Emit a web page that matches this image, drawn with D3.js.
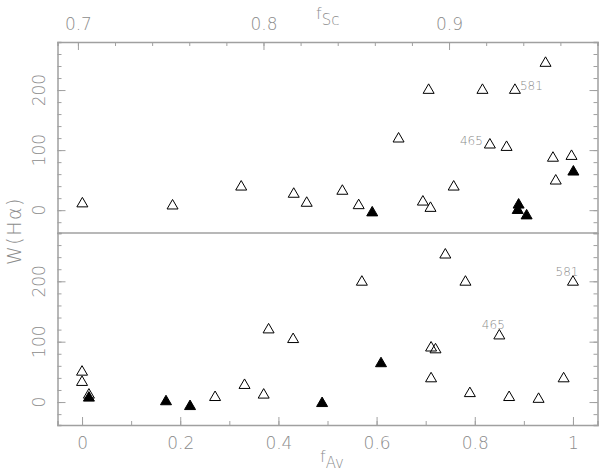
<!DOCTYPE html>
<html>
<head>
<meta charset="utf-8">
<script src="https://cdn.jsdelivr.net/npm/d3@7"></script>
<style>
  body { margin: 0; background: #fff; }
  svg text { font-family: 'DejaVu Sans', sans-serif; font-weight: 200; fill: #8c8c8c; }
  .axis path, .axis line { stroke: #a0a0a0; }
  .axis path { stroke-width: 1.5; }
</style>
</head>
<body>
<svg></svg>
<script>
// upper panel: W(Ha) against f_Sc
var topOpenSc = [0.7024, 0.751, 0.788, 0.8163, 0.8233, 0.8425, 0.8513, 0.8728, 0.8859, 0.889,
                 0.890, 0.9025, 0.918, 0.922, 0.931, 0.9355, 0.952, 0.956, 0.9575, 0.966];
var topOpenW = [13, 9.5, 41, 29, 14, 34, 10, 121, 16, 202,
                5.5, 41, 202, 111, 107, 202, 247, 89, 51, 92];
var topFilledSc = [0.8586, 0.9375, 0.937, 0.9418, 0.967];
var topFilledW = [-2, 11, 2, -7, 66];

// lower panel: W(Ha) against f_Av
var botOpenAv = [0, 0, 0.014, 0.271, 0.331, 0.370, 0.380, 0.430, 0.570, 0.711,
                 0.720, 0.711, 0.740, 0.781, 0.790, 0.850, 0.870, 0.930, 0.981, 1.0];
var botOpenW = [52, 35, 14, 10, 30, 14, 122, 106, 201, 92,
                89, 41, 246, 201, 16.5, 112, 10, 7, 41, 201];
var botFilledAv = [0.014, 0.171, 0.220, 0.489, 0.609];
var botFilledW = [9, 3, -5, 0, 66];

// labelled galaxies
var topLabels = [{name: '465', x: 0.922, y: 111}, {name: '581', x: 0.9355, y: 202}];
var botLabels = [{name: '465', x: 0.850, y: 112}, {name: '581', x: 1.0, y: 201}];

var scTicks = [0.7, 0.8, 0.9];
var avTicks = [0, 0.2, 0.4, 0.6, 0.8, 1];
var wTicks = [0, 100, 200];

var width = 600, height = 474;
var plotLeft = 57.5, plotRight = 597.5, plotTop = 42, plotMid = 233, plotBottom = 425;

var svg = d3.select('svg').attr('width', width).attr('height', height);

var xSc = d3.scaleLinear().domain([0.689, 0.98]).range([plotLeft, plotRight]);
var xAv = d3.scaleLinear().domain([-0.05, 1.05]).range([plotLeft, plotRight]);
var yTop = d3.scaleLinear().domain([-38, 280]).range([plotMid, plotTop]);
var yBot = d3.scaleLinear().domain([-38, 280]).range([plotBottom, plotMid]);

function pts(xs, ys) { return xs.map((x, i) => ({x: x, y: ys[i]})); }

// axes: major ticks with labels, minor ticks shorter, all pointing inward
function addAxis(axisFn, scale, transform, major, minor, labels) {
  var g = svg.append('g').attr('class', 'axis').attr('transform', transform);
  g.call(axisFn(scale).tickValues(minor).tickSize(-4).tickFormat(''));
  var gm = svg.append('g').attr('class', 'axis').attr('transform', transform);
  gm.call(axisFn(scale).tickValues(major).tickSize(-8).tickPadding(12)
    .tickFormat(labels ? d3.format('') : ''));
  gm.select('.domain').remove();
  gm.selectAll('text').style('font-size', '17px').attr('fill', null);
  return gm;
}

addAxis(d3.axisTop, xSc, 'translate(0,' + plotTop + ')', scTicks, d3.range(0.70, 0.981, 0.02), true);
addAxis(d3.axisBottom, xAv, 'translate(0,' + plotBottom + ')', avTicks, d3.range(0, 1.01, 0.1), true);
[yTop, yBot].forEach(function(y) {
  addAxis(d3.axisLeft, y, 'translate(' + plotLeft + ',0)', wTicks, d3.range(-20, 281, 20), false);
  addAxis(d3.axisRight, y, 'translate(' + plotRight + ',0)', wTicks, d3.range(-20, 281, 20), false);
  svg.append('g').selectAll('text').data(wTicks).join('text')
      .attr('transform', d => 'translate(39,' + y(d) + ') rotate(-90)')
      .attr('text-anchor', 'middle')
      .attr('dy', '0.36em')
      .style('font-size', '17px')
      .text(d => d);
});

// divider between panels
svg.append('line')
    .attr('x1', plotLeft).attr('x2', plotRight)
    .attr('y1', plotMid).attr('y2', plotMid)
    .attr('stroke', '#a0a0a0').attr('stroke-width', 1.5);

var tri = 'M-5.5,4.5L5.5,4.5L0,-5Z';

function drawPoints(data, x, y, filled) {
  svg.append('g').selectAll('path').data(data).join('path')
      .attr('d', tri)
      .attr('transform', d => 'translate(' + x(d.x) + ',' + y(d.y) + ')')
      .attr('fill', filled ? '#000' : 'none')
      .attr('stroke', '#000')
      .attr('stroke-width', 1);
}

drawPoints(pts(topOpenSc, topOpenW), xSc, yTop, false);
drawPoints(pts(topFilledSc, topFilledW), xSc, yTop, true);
drawPoints(pts(botOpenAv, botOpenW), xAv, yBot, false);
drawPoints(pts(botFilledAv, botFilledW), xAv, yBot, true);

// point labels
svg.append('text').attr('x', xSc(topLabels[0].x) - 7).attr('y', yTop(topLabels[0].y) + 1)
    .attr('text-anchor', 'end').style('font-size', '12px').text(topLabels[0].name);
svg.append('text').attr('x', xSc(topLabels[1].x) + 5).attr('y', yTop(topLabels[1].y) + 1)
    .style('font-size', '12px').text(topLabels[1].name);
botLabels.forEach(function(l) {
  svg.append('text').attr('x', xAv(l.x) - 6).attr('y', yBot(l.y) - 5)
      .attr('text-anchor', 'middle').style('font-size', '12px').text(l.name);
});

// axis titles
svg.append('text')
    .attr('transform', 'translate(21,231) rotate(-90)')
    .attr('text-anchor', 'middle')
    .style('font-size', '19px')
    .style('letter-spacing', '1.5px')
    .text('W(Hα)');

svg.append('text').attr('x', 316).attr('y', 19).style('font-size', '16px')
    .text('f').append('tspan').attr('dy', 6).style('font-size', '15px').text('Sc');

svg.append('text').attr('x', 320).attr('y', 462).style('font-size', '16px')
    .text('f').append('tspan').attr('dy', 6).style('font-size', '15px').text('Av');
</script>
</body>
</html>
